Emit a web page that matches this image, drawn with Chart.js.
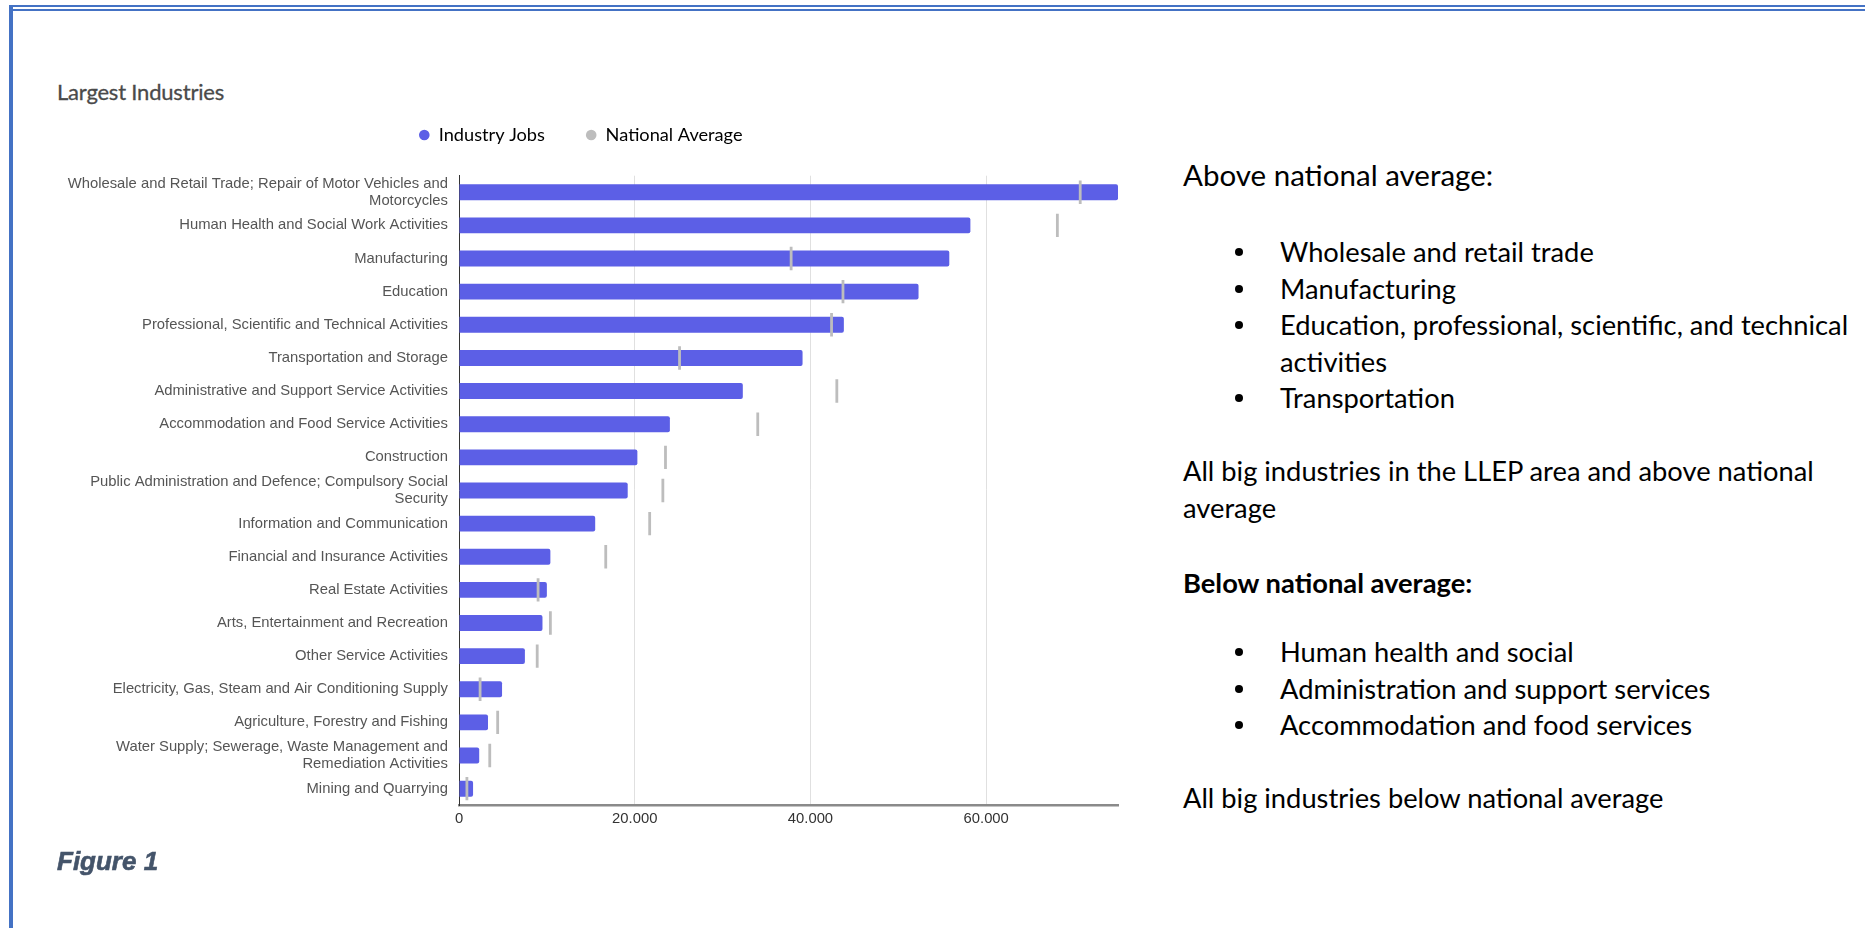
<!DOCTYPE html>
<html>
<head>
<meta charset="utf-8">
<title>Largest Industries</title>
<script src="https://cdn.jsdelivr.net/npm/chart.js@4.4.1/dist/chart.umd.min.js"></script>
<style>
  html, body { margin: 0; padding: 0; background: #fff; }
  body { width: 1865px; height: 928px; position: relative; overflow: hidden; }
  .rule { position: absolute; background: #4472c4; }
  #title { position: absolute; left: 57px; top: 79px; font: 22px/26px Lato, sans-serif; color: #4a4a4a; letter-spacing: -0.2px; -webkit-text-stroke: 0.3px #4a4a4a; }
  #chartBox { position: absolute; left: 0; top: 0; width: 1140px; height: 850px; }
  .notes { position: absolute; left: 1183px; margin: 0; font-family: Lato, sans-serif; font-size: 27.3px; line-height: 36.6px; color: #000; white-space: nowrap; }
  .notes.head { font-size: 29.5px; }
  ul.notes { left: 1280px; list-style: none; padding: 0; }
  ul.notes li { position: relative; }
  ul.notes li::before { content: ''; position: absolute; left: -45px; top: 14px; width: 8px; height: 8px; border-radius: 50%; background: #000; }
  #caption { position: absolute; left: 57px; top: 848px; font: italic bold 26px/26px "Liberation Sans", Arial, sans-serif; color: #44546a; -webkit-text-stroke: 0.6px #44546a; }
</style>
</head>
<body>
<div class="rule" style="left:9px; top:5px; width:1856px; height:2px"></div>
<div class="rule" style="left:9px; top:9px; width:1856px; height:2px"></div>
<div class="rule" style="left:9px; top:5px; width:4px; height:923px"></div>

<div id="title">Largest Industries</div>
<div id="chartBox"><canvas id="chart"></canvas></div>

<p class="notes head" style="top:157px">Above national average:</p>
<ul class="notes" style="top:234px">
  <li>Wholesale and retail trade</li>
  <li>Manufacturing</li>
  <li>Education, professional, scientific, and technical<br>activities</li>
  <li>Transportation</li>
</ul>
<p class="notes" style="top:453px">All big industries in the LLEP area and above national<br>average</p>
<p class="notes" style="top:565px"><b>Below national average:</b></p>
<ul class="notes" style="top:634px">
  <li>Human health and social</li>
  <li>Administration and support services</li>
  <li>Accommodation and food services</li>
</ul>
<p class="notes" style="top:780px">All big industries below national average</p>

<div id="caption">Figure 1</div>

<script>
'use strict';

const industries = [
    ['Wholesale and Retail Trade; Repair of Motor Vehicles and', 'Motorcycles'],
    'Human Health and Social Work Activities',
    'Manufacturing',
    'Education',
    'Professional, Scientific and Technical Activities',
    'Transportation and Storage',
    'Administrative and Support Service Activities',
    'Accommodation and Food Service Activities',
    'Construction',
    ['Public Administration and Defence; Compulsory Social', 'Security'],
    'Information and Communication',
    'Financial and Insurance Activities',
    'Real Estate Activities',
    'Arts, Entertainment and Recreation',
    'Other Service Activities',
    'Electricity, Gas, Steam and Air Conditioning Supply',
    'Agriculture, Forestry and Fishing',
    ['Water Supply; Sewerage, Waste Management and', 'Remediation Activities'],
    'Mining and Quarrying'
]
const industryJobs = [75000, 58200, 55800, 52300, 43800, 39100, 32300, 24000, 20300, 19200,
    15500, 10400, 10000, 9500, 7500, 4900, 3300, 2300, 1600]
const nationalAverage = [70700, 68100, 37800, 43700, 42400, 25100, 43000, 34000, 23500, 23200,
    21700, 16700, 9000, 10400, 8900, 2400, 4400, 3500, 900]
const seriesNames = ['Industry Jobs', 'National Average']
const seriesColors = ['#5c5fe6', '#bdbdbd']
const xTickValues = [0, 20000, 40000, 60000]
const axisMax = 75000

function formatThousands(v) {
    return String(v).replace(/\B(?=(\d{3})+(?!\d))/g, '.')
}

// the layout puts the legend right on top of the plot; lift it and pull it left
const legendPlacement = {
    id: 'legendPlacement',
    afterLayout(chart, _args, opts) {
        const legend = chart.legend
        const pad = legend.options.labels.padding
        const size = legend.options.labels.font.size
        const startX = (legend.left + pad + legend.right - legend.lineWidths[0]) / 2
        const dx = opts.x - startX
        const dy = opts.y - (legend.top + pad + size / 2)
        legend.left += dx
        legend.right += dx
        legend.top += dy
        legend.bottom += dy
    }
}

Chart.defaults.font.family = '"Liberation Sans", Arial, sans-serif'

const ctx = document.getElementById('chart').getContext('2d')
const chart = new Chart(ctx, {
    type: 'bar',
    data: {
        labels: industries,
        datasets: [{
            label: seriesNames[0],
            data: industryJobs,
            backgroundColor: seriesColors[0],
            borderRadius: 2,
            barPercentage: 0.48,
            categoryPercentage: 1,
            order: 2,
        },
        {
            type: 'line',
            label: seriesNames[1],
            data: nationalAverage,
            indexAxis: 'y',
            showLine: false,
            pointStyle: 'line',
            pointRotation: 90,
            pointRadius: 11.7,
            pointHoverRadius: 11.7,
            pointBorderWidth: 2.8,
            pointHoverBorderWidth: 2.8,
            pointBorderColor: seriesColors[1],
            pointBackgroundColor: seriesColors[1],
            borderColor: seriesColors[1],
            backgroundColor: seriesColors[1],
            order: 1,
        }]
    },
    options: {
        indexAxis: 'y',
        responsive: true,
        maintainAspectRatio: false,
        animation: false,
        layout: {
            padding: { left: 59, right: 22, top: 106.5, bottom: 17 }
        },
        scales: {
            x: {
                type: 'linear',
                min: 0,
                max: axisMax,
                afterBuildTicks: (scale) => {
                    scale.ticks = xTickValues.map((value) => ({ value }))
                },
                grid: { color: '#e0e0e0', drawTicks: false },
                border: { color: '#8a8a8a', width: 2.5 },
                ticks: {
                    padding: 5,
                    color: '#333',
                    font: { size: 14.8 },
                    callback: (v) => formatThousands(v),
                }
            },
            y: {
                grid: { display: false, drawTicks: false },
                border: { color: '#333', width: 1 },
                ticks: {
                    autoSkip: false,
                    padding: 11,
                    color: '#555',
                    font: { size: 14.8, lineHeight: 1.13 },
                },
                afterFit: (scale) => { scale.width = 400 },
            }
        },
        plugins: {
            legend: {
                position: 'top',
                labels: {
                    boxWidth: 10.6,
                    boxHeight: 10.6,
                    padding: 41,
                    color: '#666',
                    font: { family: 'Lato', size: 18.2 },
                    generateLabels: (c) => c.data.datasets.map((ds, i) => ({
                        text: ds.label,
                        fillStyle: seriesColors[i],
                        strokeStyle: seriesColors[i],
                        lineWidth: 0,
                        borderRadius: 5.3,
                        hidden: false,
                        datasetIndex: i,
                    })),
                }
            },
            legendPlacement: { x: 419, y: 135 },
            tooltip: { enabled: false },
        }
    },
    plugins: [legendPlacement]
});
</script>
</body>
</html>
